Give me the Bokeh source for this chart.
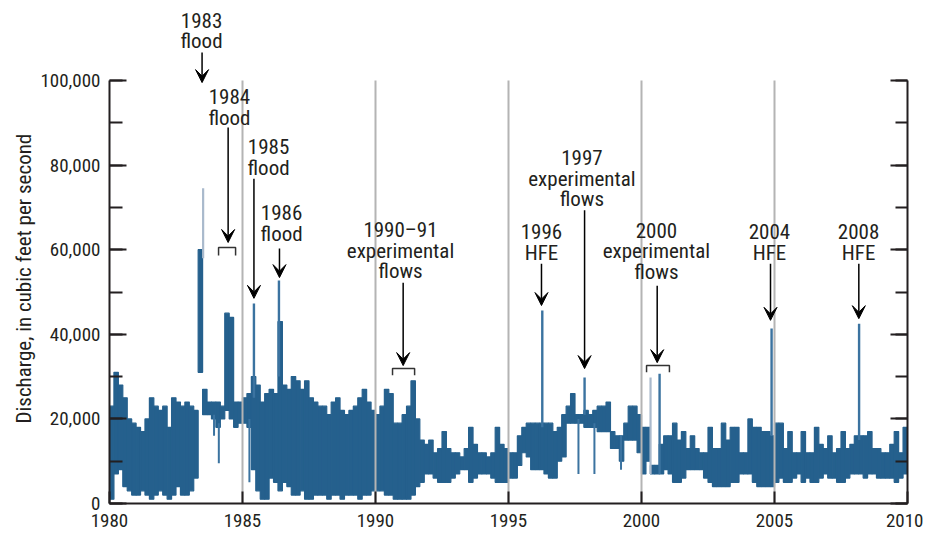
from bokeh.plotting import figure
from bokeh.models import (Range1d, LinearAxis, SingleIntervalTicker, NumeralTickFormatter,
                          CustomJSTickFormatter, Arrow, VeeHead, ColumnDataSource, Title)
from bokeh.embed import file_html
from bokeh.resources import INLINE
from bokeh.core.properties import value

FONT = "Roboto Condensed, Noto Sans Condensed, DejaVu Sans Condensed, sans-serif"
BLUE = "#25608d"
INK = "#231f20"

# ---- data: two-month bins (6 per year), discharge range in thousand cfs ----
start_year = 1980
bins_per_year = 6
bin_high_kcfs = [
    23, 31, 28, 25, 20, 19,   # 1980
    18, 17, 20, 25, 23, 22,   # 1981
    23, 18, 25, 24, 23, 24,   # 1982
    23, 22, 60, 27, 24, 24,   # 1983
    24, 23, 45, 44, 24, 24,   # 1984
    25, 26, 30, 28, 24, 26,   # 1985
    27, 26, 43, 28, 27, 30,   # 1986
    29, 27, 29, 25, 24, 23,   # 1987
    23, 21, 24, 25, 22, 21,   # 1988
    22, 23, 25, 27, 24, 22,   # 1989
    21, 23, 27, 26, 19, 19,   # 1990
    21, 23, 29, 20, 15, 14,   # 1991
    15, 12, 13, 17, 13, 12,   # 1992
    12, 11, 13, 18, 14, 12,   # 1993
    12, 11, 12, 18, 14, 13,   # 1994
    12, 12, 16, 18, 19, 19,   # 1995
    19, 19, 19, 19, 17, 18,   # 1996
    21, 23, 26, 21, 21, 22,   # 1997
    21, 22, 23, 23, 24, 17,   # 1998
    16, 16, 19, 23, 23, 21,   # 1999
    18, 18, 9, 9, 14, 16,     # 2000
    16, 19, 15, 17, 13, 16,   # 2001
    13, 12, 12, 18, 13, 13,   # 2002
    19, 15, 18, 18, 12, 12,   # 2003
    20, 18, 18, 17, 17, 16,   # 2004
    19, 19, 13, 17, 12, 12,   # 2005
    17, 12, 12, 18, 14, 13,   # 2006
    16, 12, 13, 17, 13, 14,   # 2007
    16, 16, 16, 17, 13, 13,   # 2008
    12, 12, 14, 17, 12, 18,   # 2009
]
bin_low_kcfs = [
    1, 7, 8, 4, 3, 2,         # 1980
    2, 3, 2, 1, 2, 3,         # 1981
    2, 1, 2, 4, 2, 2,         # 1982
    3, 6, 31, 21, 21, 20,     # 1983
    18, 20, 22, 20, 18, 19,   # 1984
    19, 18, 8, 3, 1, 1,       # 1985
    6, 5, 3, 5, 4, 2,         # 1986
    2, 3, 1, 1, 2, 2,         # 1987
    2, 1, 2, 2, 1, 2,         # 1988
    2, 2, 1, 2, 2, 3,         # 1989
    3, 3, 2, 2, 1, 1,         # 1990
    1, 1, 2, 4, 5, 7,         # 1991
    7, 6, 5, 5, 5, 6,         # 1992
    7, 8, 8, 5, 6, 7,         # 1993
    7, 7, 6, 5, 5, 5,         # 1994
    6, 6, 9, 12, 11, 8,       # 1995
    8, 8, 7, 6, 6, 10,        # 1996
    11, 19, 19, 19, 19, 18,   # 1997
    18, 18, 17, 17, 17, 13,   # 1998
    13, 10, 15, 15, 15, 12,   # 1999
    7, 10, 7, 7, 7, 8,        # 2000
    7, 5, 5, 6, 8, 8,         # 2001
    8, 8, 6, 5, 4, 4,         # 2002
    4, 4, 5, 5, 7, 7,         # 2003
    7, 5, 4, 4, 4, 4,         # 2004
    5, 6, 5, 5, 6, 7,         # 2005
    5, 6, 5, 5, 6, 7,         # 2006
    6, 6, 5, 5, 6, 7,         # 2007
    7, 7, 6, 7, 7, 6,         # 2008
    6, 6, 6, 5, 6, 7,         # 2009
]

# short high-flow peaks (cfs)
peak_year = [1985.43, 1986.37, 1996.27, 1997.86, 2000.68, 2004.89, 2008.18]
peak_cfs = [47300, 52700, 45600, 29800, 30700, 41400, 42500]
peak_base_cfs = [25000, 30000, 18000, 21000, 7000, 16000, 15000]
faint_peak_year = [1983.52, 2000.34]
faint_peak_cfs = [74500, 29800]
faint_peak_base_cfs = [58000, 7000]
# short low-flow dips (cfs)
dip_year = [1983.93, 1984.11, 1985.26, 1997.63, 1998.23, 1999.23]
dip_low_cfs = [16000, 9500, 5000, 7000, 7000, 8000]
dip_top_cfs = [21000, 19000, 20000, 20000, 19000, 16000]

grid_years = [1985, 1990, 1995, 2000, 2005]

# annotations
label_text = ["1983\nflood", "1984\nflood", "1985\nflood", "1986\nflood",
              "1990\u201391\nexperimental\nflows", "1996\nHFE",
              "1997\nexperimental\nflows", "2000\nexperimental\nflows",
              "2004\nHFE", "2008\nHFE"]
label_x = [1983.46, 1984.51, 1985.98, 1986.47, 1990.94, 1996.24, 1997.76, 2000.56, 2004.81, 2008.16]
label_y = [111700, 93600, 81800, 66200, 59800, 61700, 76800, 59600, 61700, 61700]
arrow_x = [1983.48, 1984.46, 1985.43, 1986.39, 1991.04, 1996.24, 1997.86, 2000.59, 2004.85, 2008.17]
arrow_y_start = [106600, 88900, 76800, 60300, 52200, 56700, 69300, 51500, 56700, 56700]
arrow_y_end = [99500, 61700, 48500, 53400, 32600, 46800, 31900, 33300, 43300, 43700]
bracket_x0 = [1984.10, 1990.64, 2000.19]
bracket_x1 = [1984.74, 1991.47, 2001.05]
bracket_top = [60500, 31900, 32600]
bracket_foot = [58600, 30300, 31000]

# ---- figure ----
n_bins = len(bin_high_kcfs)
left = [start_year + i / bins_per_year for i in range(n_bins)]
right = [start_year + (i + 1) / bins_per_year for i in range(n_bins)]

p = figure(width=923, height=532, x_range=Range1d(1980, 2010), y_range=Range1d(0, 118913),
           output_backend="svg", toolbar_location=None, x_axis_type=None, y_axis_type=None,
           min_border_left=109, min_border_right=16, min_border_top=0, min_border_bottom=29)
p.outline_line_color = None
p.xgrid.visible = False
p.ygrid.visible = False
p.background_fill_color = "white"
p.border_fill_color = "white"

p.quad(left=left, right=right, bottom=[v * 1000 for v in bin_low_kcfs],
       top=[v * 1000 for v in bin_high_kcfs], fill_color=BLUE, line_color=BLUE, line_width=1.2)
p.segment(x0=dip_year, x1=dip_year, y0=dip_low_cfs, y1=dip_top_cfs,
          line_color="#3b73a0", line_width=2)
p.segment(x0=faint_peak_year, x1=faint_peak_year, y0=faint_peak_base_cfs, y1=faint_peak_cfs,
          line_color="#a9b9cc", line_width=2.2)
p.segment(x0=peak_year, x1=peak_year, y0=peak_base_cfs, y1=peak_cfs,
          line_color="#3b73a0", line_width=2.4)

p.segment(x0=grid_years, x1=grid_years, y0=[0] * len(grid_years), y1=[100000] * len(grid_years),
          line_color="#b4b4b4", line_width=2)

p.text(x=label_x, y=label_y, text=label_text, text_font=value(FONT), text_font_size="21px",
       text_align="center", text_baseline="middle", text_line_height=0.84, text_color=INK)

arrow_src = ColumnDataSource(dict(x=arrow_x, ys=arrow_y_start, ye=arrow_y_end))
p.add_layout(Arrow(end=VeeHead(size=13, fill_color="black", line_color="black", line_width=1),
                   x_start="x", y_start="ys", x_end="x", y_end="ye", source=arrow_src,
                   line_color="black", line_width=1.5))

p.multi_line(xs=[[a, a, b, b] for a, b in zip(bracket_x0, bracket_x1)],
             ys=[[f, t, t, f] for t, f in zip(bracket_top, bracket_foot)],
             line_color="#333333", line_width=1.5)

axis_style = dict(axis_line_width=2, axis_line_color=INK, major_tick_line_width=2,
                  major_tick_line_color=INK, minor_tick_line_width=2, minor_tick_line_color=INK,
                  major_label_text_font=FONT, major_label_text_font_size="19px",
                  major_label_text_color=INK)

xaxis = LinearAxis(ticker=SingleIntervalTicker(interval=5, num_minor_ticks=0),
                   major_tick_in=12, major_tick_out=0, minor_tick_in=0, minor_tick_out=0,
                   major_label_standoff=10, **axis_style)
p.add_layout(xaxis, "below")

yaxis = LinearAxis(ticker=SingleIntervalTicker(interval=20000, num_minor_ticks=2),
                   bounds=(0, 100000), formatter=NumeralTickFormatter(format="0,0"),
                   major_tick_in=17, major_tick_out=0, minor_tick_in=13, minor_tick_out=0,
                   major_label_standoff=9, **axis_style)
p.add_layout(yaxis, "left")

p.add_layout(Title(text="Discharge, in cubic feet per second", align="left", offset=80,
                   text_font=FONT, text_font_size="21px", text_font_style="normal",
                   text_color=INK, standoff=4), "left")

raxis = LinearAxis(ticker=SingleIntervalTicker(interval=20000, num_minor_ticks=2),
                   bounds=(0, 100000), formatter=CustomJSTickFormatter(code="return ''"),
                   major_tick_in=17, major_tick_out=0, minor_tick_in=12, minor_tick_out=0,
                   major_label_standoff=0, **axis_style)
p.add_layout(raxis, "right")

open("out.html", "w").write(file_html(p, INLINE))
